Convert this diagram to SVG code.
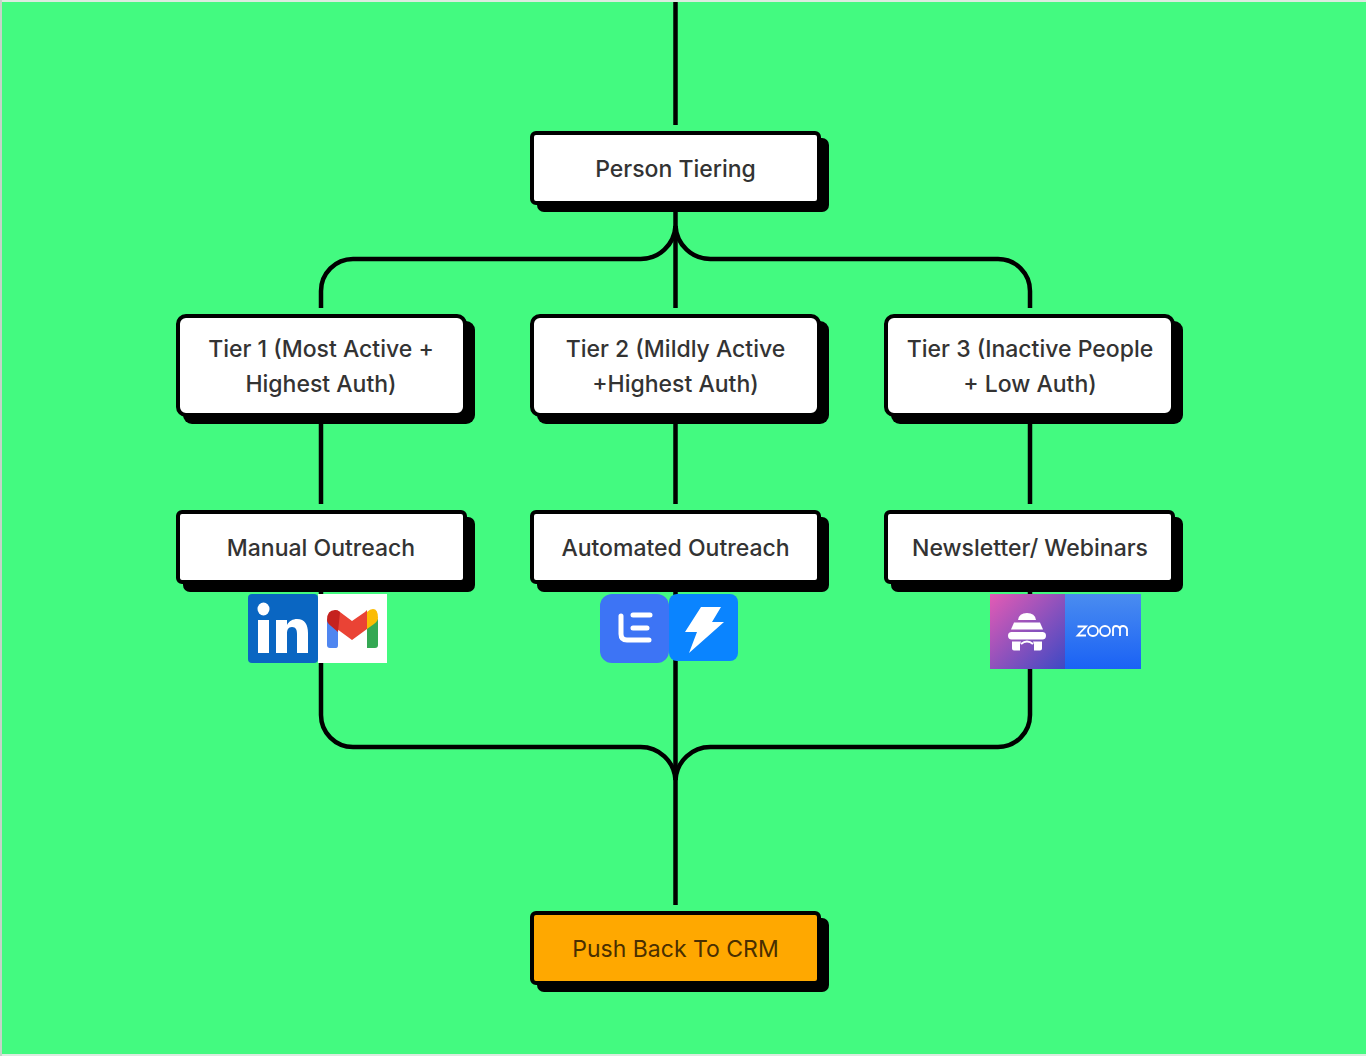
<svg xmlns="http://www.w3.org/2000/svg" width="1366" height="1056" viewBox="0 0 1366 1056">
<style>
.wire{fill:none;stroke:#000;stroke-width:4.500}
.shadow{fill:#000}
.box{fill:#fff;stroke:#000;stroke-width:4}
.orange{fill:#ffa800}
text.t{font-family:Inter,"Liberation Sans",sans-serif;font-size:23px;font-weight:500;fill:#333;text-anchor:middle}
text.o{fill:#4a2f00;font-weight:400}
</style>
<defs>
<linearGradient id="bee" x1="0" y1="0" x2="1" y2="1"><stop offset="0" stop-color="#e45bb4"/><stop offset="1" stop-color="#3d49c4"/></linearGradient>
<linearGradient id="zm" x1="0" y1="0" x2="0" y2="1"><stop offset="0" stop-color="#4a8cf0"/><stop offset="1" stop-color="#1a62f5"/></linearGradient>
</defs>
<rect width="1366" height="1056" fill="#dcebe0"/>
<rect x="0" y="0" width="2" height="1056" fill="#c4d4c8"/>
<rect x="2" y="2" width="1364" height="1052" fill="#43fa80"/>
<g id="connectors">
<path class="wire" d="M675.5 2V125"/>
<path class="wire" d="M675.5 210V308"/>
<path class="wire" d="M321 308V291A32 32 0 0 1 353 259H640A35 35 0 0 0 675.500 226"/>
<path class="wire" d="M1030 308V291A32 32 0 0 0 998 259H711A35 35 0 0 1 675.500 226"/>
<path class="wire" d="M321 422V504M675.5 422V504M1030 422V504"/>
<path class="wire" d="M321 590V715A32 32 0 0 0 353 747H640A35 35 0 0 1 675.500 780"/>
<path class="wire" d="M1030 590V715A32 32 0 0 1 998 747H711A35 35 0 0 0 675.500 780"/>
<path class="wire" d="M675.5 590V905"/>
</g>
<g id="person-tiering">
<rect class="shadow" x="537" y="138" width="292" height="74" rx="7"/>
<rect class="box" x="532" y="133" width="287" height="70" rx="4"/>
<text class="t" x="675.500" y="176.500">Person Tiering</text>
</g>
<g id="tier-1">
<rect class="shadow" x="183" y="321" width="292" height="103" rx="9"/>
<rect class="box" x="178" y="316" width="287" height="99" rx="8"/>
<text class="t" x="321" y="356.500">Tier 1 (Most Active +</text>
<text class="t" x="321" y="391.500">Highest Auth)</text>
</g>
<g id="tier-2">
<rect class="shadow" x="537" y="321" width="292" height="103" rx="9"/>
<rect class="box" x="532" y="316" width="287" height="99" rx="8"/>
<text class="t" x="675.500" y="356.500">Tier 2 (Mildly Active</text>
<text class="t" x="675.500" y="391.500">+Highest Auth)</text>
</g>
<g id="tier-3">
<rect class="shadow" x="891" y="321" width="292" height="103" rx="9"/>
<rect class="box" x="886" y="316" width="287" height="99" rx="8"/>
<text class="t" x="1030" y="356.500">Tier 3 (Inactive People</text>
<text class="t" x="1030" y="391.500">+ Low Auth)</text>
</g>
<g id="manual-outreach">
<rect class="shadow" x="183" y="517" width="292" height="75" rx="7"/>
<rect class="box" x="178" y="512" width="287" height="70" rx="4"/>
<text class="t" x="321" y="555.500">Manual Outreach</text>
</g>
<g id="automated-outreach">
<rect class="shadow" x="537" y="517" width="292" height="75" rx="7"/>
<rect class="box" x="532" y="512" width="287" height="70" rx="4"/>
<text class="t" x="675.500" y="555.500">Automated Outreach</text>
</g>
<g id="newsletter-webinars">
<rect class="shadow" x="891" y="517" width="292" height="75" rx="7"/>
<rect class="box" x="886" y="512" width="287" height="70" rx="4"/>
<text class="t" x="1030" y="555.500">Newsletter/ Webinars</text>
</g>
<g id="push-back">
<rect class="shadow" x="537" y="918" width="292" height="74" rx="7"/>
<rect class="box orange" x="532" y="913" width="287" height="70" rx="4"/>
<text class="t o" x="675.500" y="956.500">Push Back To CRM</text>
</g>
<g id="linkedin-icon">
<rect x="248" y="594" width="70" height="69" rx="4" fill="#0a66c2"/>
<ellipse cx="263.500" cy="609" rx="6" ry="6.500" fill="#fff"/>
<rect x="258" y="620" width="11" height="33" fill="#fff"/>
<path d="M276 620h11v5c2-4 6-6 10-6 8 0 11 6 11 14v20h-11v-19c0-4-1-7-5-7s-5 3-5 7v19h-11z" fill="#fff"/>
</g>
<g id="gmail-icon">
<rect x="318" y="594" width="69" height="69" fill="#fff"/>
<path d="M327 620v25q0 3 3 3h6q2 0 2-3v-22z" fill="#4f86f0"/>
<path d="M367 622v26h8q3 0 3-3v-26z" fill="#34a853"/>
<path d="M335 610q3 0 5 2l12 9 13-9q2-2 2-2v19l-15 11-15-11q-7-5-7-9z" fill="#ea4335"/>
<path d="M327 620q0-10 8-10 3 0 5 2l-2 20-7-6q-4-3-4-6z" fill="#c5221f"/>
<path d="M367 612q3-3 6-3 5 0 5 9 0 3-4 6l-7 5z" fill="#fbbc04"/>
</g>
<g id="lemlist-icon">
<rect x="600" y="594" width="69" height="69" rx="12" fill="#3d74f5"/>
<path d="M621 616v18q0 6 6 6h22" fill="none" stroke="#fff" stroke-width="5" stroke-linecap="round"/>
<path d="M633 615h17M633 628h14" fill="none" stroke="#fff" stroke-width="5" stroke-linecap="round"/>
</g>
<g id="bolt-icon">
<rect x="669" y="594" width="69" height="67" rx="8" fill="#0a84ff"/>
<path d="M701 607h20l-9 15h12l-35 31 8-21h-12z" fill="#fff"/>
</g>
<g id="beehiiv-icon">
<rect x="990" y="594" width="75" height="75" fill="url(#bee)"/>
<g fill="#fff">
<path d="M1018 620q1-7 9-7t9 7z"/>
<path d="M1014 622.500h26l3 7h-32z"/>
<rect x="1008" y="632" width="38" height="7.500" rx="3.700"/>
<path d="M1012 641.500h9q-1 2-1 4v5h-6q-2 0-2-2zM1042 641.500h-9q1 2 1 4v5h6q2 0 2-2z"/>
</g>
<path d="M1021 644q6-5 12 0" fill="none" stroke="#fff" stroke-width="2"/>
</g>
<g id="zoom-icon">
<rect x="1065" y="594" width="76" height="75" fill="url(#zm)"/>
<g fill="none" stroke="#fff" stroke-width="1.800">
<path d="M1077.500 626.500h8.500l-8.500 9h8.500"/>
<circle cx="1093" cy="631" r="5"/><circle cx="1105" cy="631" r="5"/>
<path d="M1113 636v-7q0-3 3-3t4 3v7M1120 629q0-3 3-3t4 3v7"/>
</g>
</g>
</svg>
